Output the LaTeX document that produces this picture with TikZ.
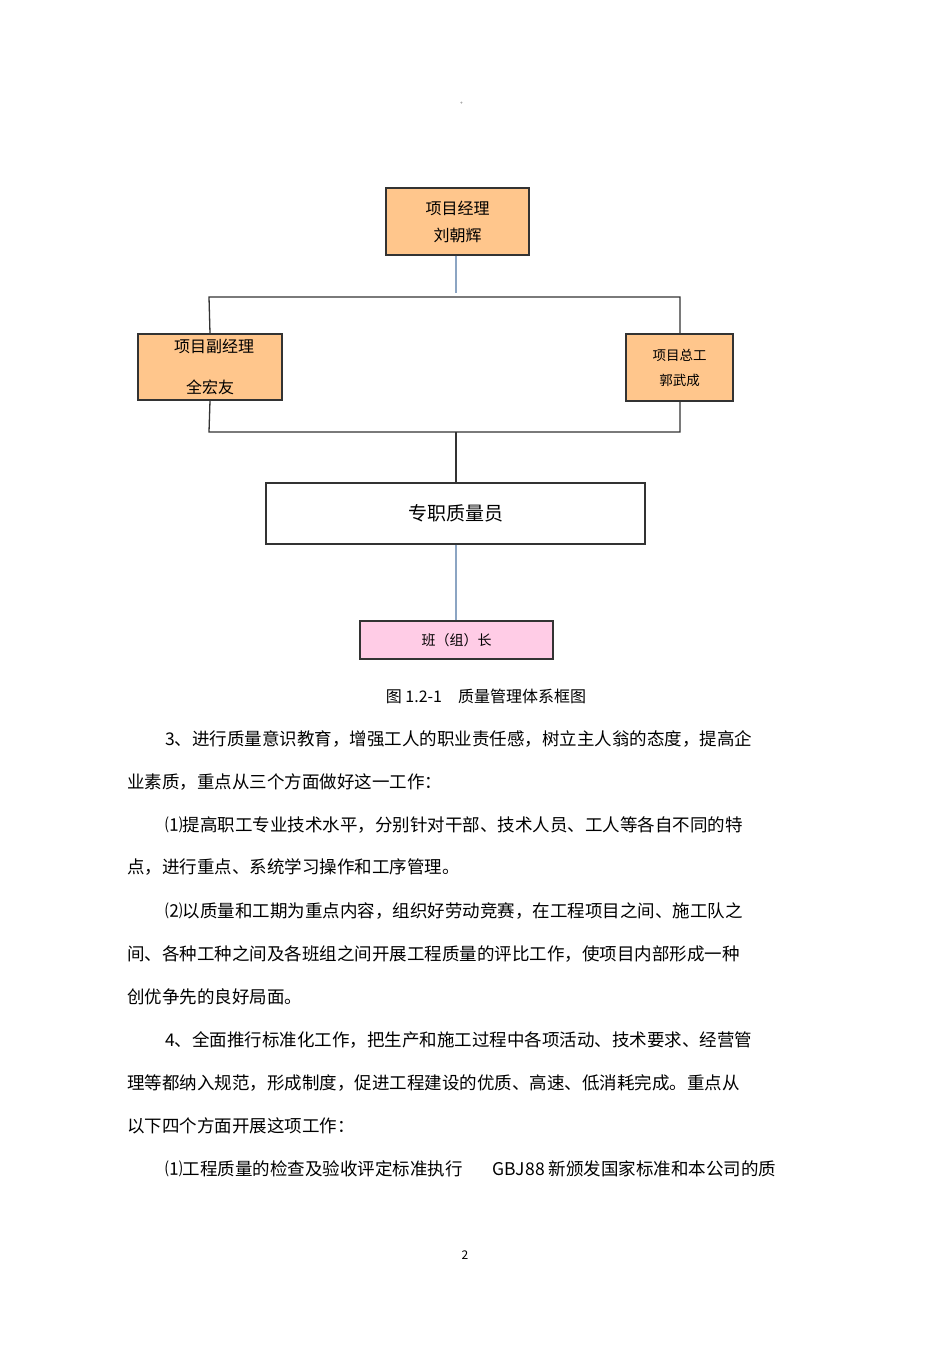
\documentclass[tikz,border=0pt]{standalone}
\usepackage{fontspec}
\setmainfont{Noto Sans CJK SC}
\begin{document}
\begin{tikzpicture}[x=1pt,y=-1pt,
  bx/.style={draw=black!80,line width=1.3pt,inner sep=0pt,align=center},
  org/.style={bx,fill=orange!45!white},
  ln/.style={line width=1.3pt,black!80},
  bl/.style={line width=1.3pt,color={rgb,255:red,140;green,165;blue,195}},
  para/.style={anchor=west,inner sep=0pt,font=\fontsize{17.5}{20}\selectfont}]
\useasboundingbox (0,0) rectangle (950,1345);
\node[font=\tiny] (dot) at (463,103) {。};
\node[org,minimum width=143,minimum height=67,font=\fontsize{16}{27}\selectfont] (pm) at (457.5,221.5) {项目经理\\刘朝辉};
\node[org,minimum width=144,minimum height=66,font=\fontsize{16}{41}\selectfont] (vpm) at (210,367) {\hspace*{8pt}项目副经理\\全宏友};
\node[org,minimum width=107,minimum height=67,font=\fontsize{13.5}{25}\selectfont] (ce) at (679.5,367.5) {项目总工\\郭武成};
\node[bx,minimum width=379,minimum height=61,font=\fontsize{19}{22}\selectfont] (qc) at (455.5,513.5) {专职质量员};
\node[bx,fill={rgb,255:red,255;green,204;blue,230},minimum width=193,minimum height=38,font=\fontsize{14}{16}\selectfont] (bz) at (456.5,640) {班（组）长};
\coordinate (t) at (456,293);
\draw[bl] (pm.south -| t) -- (t);
\draw[ln] (vpm.north) -- (209,297) -- (680,297) -- (ce.north -| 680,0);
\draw[ln] (vpm.south) -- (209,432) -- (680,432) -- (ce.south -| 680,0);
\draw[ln] (456,432) -- (qc.north -| 456,0);
\draw[bl] (qc.south -| 456,0) -- (bz.north -| 456,0);
\node[font=\fontsize{16}{18}\selectfont] (cap) at (486,696) {图 1.2-1\quad 质量管理体系框图};
\node[para] (l1) at (165,739) {3、进行质量意识教育，增强工人的职业责任感，树立主人翁的态度，提高企};
\node[para] (l2) at (127,782) {业素质，重点从三个方面做好这一工作：};
\node[para] (l3) at (165,825) {⑴提高职工专业技术水平，分别针对干部、技术人员、工人等各自不同的特};
\node[para] (l4) at (127,867) {点，进行重点、系统学习操作和工序管理。};
\node[para] (l5) at (165,911) {⑵以质量和工期为重点内容，组织好劳动竞赛，在工程项目之间、施工队之};
\node[para] (l6) at (127,954) {间、各种工种之间及各班组之间开展工程质量的评比工作，使项目内部形成一种};
\node[para] (l7) at (127,997) {创优争先的良好局面。};
\node[para] (l8) at (165,1040) {4、全面推行标准化工作，把生产和施工过程中各项活动、技术要求、经营管};
\node[para] (l9) at (127,1083) {理等都纳入规范，形成制度，促进工程建设的优质、高速、低消耗完成。重点从};
\node[para] (l10) at (127,1126) {以下四个方面开展这项工作：};
\node[para] (l11) at (165,1169) {⑴工程质量的检查及验收评定标准执行\hspace{30pt}GBJ88 新颁发国家标准和本公司的质};
\node[font=\fontsize{12}{14}\selectfont] (pg) at (465,1255) {2};
\end{tikzpicture}
\end{document}
